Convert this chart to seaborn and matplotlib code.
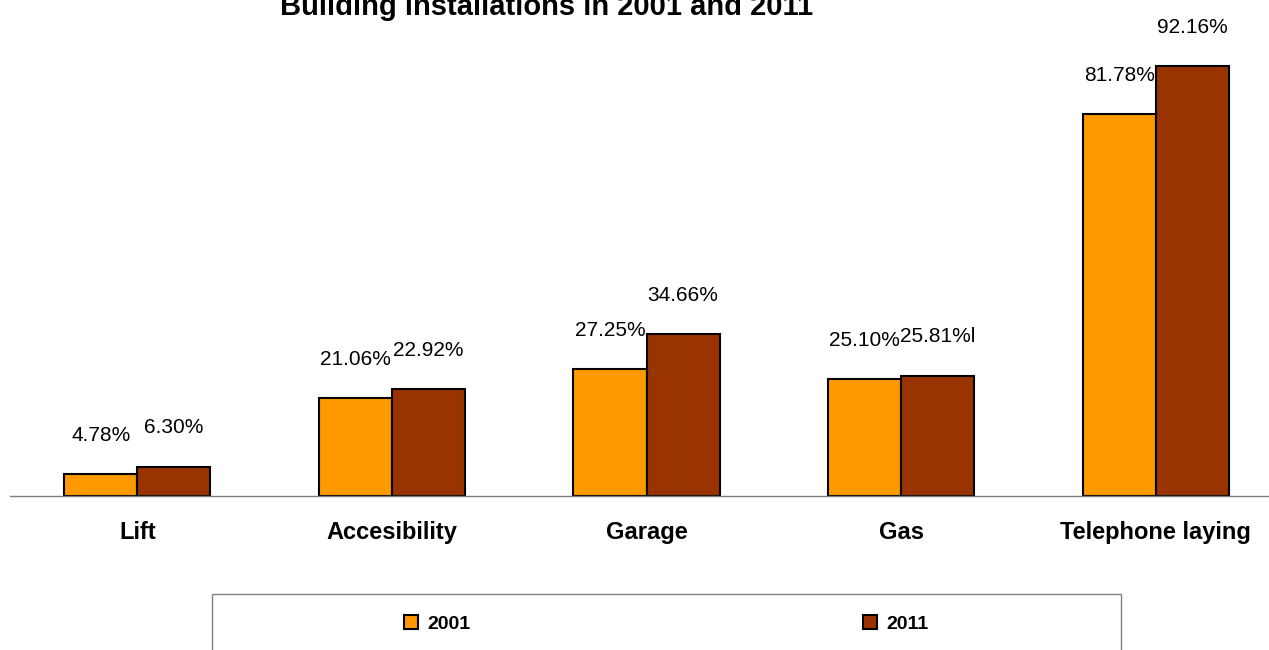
import pandas as pd
import seaborn as sns
import matplotlib.pyplot as plt
from matplotlib.patches import Rectangle, Patch

categories = ['Lift', 'Accesibility', 'Garage', 'Gas', 'Telephone laying']
years = ['2001', '2011']
values_2001 = [4.78, 21.06, 27.25, 25.10, 81.78]
values_2011 = [6.30, 22.92, 34.66, 25.81, 92.16]
labels_2001 = ['4.78%', '21.06%', '27.25%', '25.10%', '81.78%']
labels_2011 = ['6.30%', '22.92%', '34.66%', '25.81%l', '92.16%']
colors = ['#FF9900', '#993300']

df = pd.DataFrame({
    'category': categories * 2,
    'year': [years[0]] * 5 + [years[1]] * 5,
    'value': values_2001 + values_2011,
})

sns.set_style('white')
plt.rcParams['font.family'] = ['Liberation Sans', 'DejaVu Sans']
plt.rcParams['text.color'] = 'black'
plt.rcParams['xtick.color'] = 'black'

W, H = 1269, 650
fig = plt.figure(figsize=(W / 100, H / 100), dpi=100)
ax = fig.add_axes([10 / W, 154 / H, 1273 / W, 466.6 / H])

sns.barplot(data=df, x='category', y='value', hue='year', palette=colors,
            width=0.575, edgecolor='black', linewidth=1.5, saturation=1,
            legend=False, ax=ax)

for cont, labs in zip(ax.containers, [labels_2001, labels_2011]):
    ax.bar_label(cont, labels=labs, padding=21, fontsize=15, color='black')

ax.set_xlim(-0.5, 4.5)
ax.set_ylim(0, 100)
ax.set_yticks([])
ax.set_xlabel('')
ax.set_ylabel('')
for s in ['top', 'left', 'right']:
    ax.spines[s].set_visible(False)
ax.spines['bottom'].set_color('#808080')
ax.spines['bottom'].set_linewidth(1)

ax.set_xticks(range(5))
ax.set_xticklabels(categories, fontsize=17, fontweight='bold', color='black')
ax.tick_params(axis='x', which='major', length=0, pad=18)
ax.set_xticks([i - 0.5 for i in range(6)], minor=True)
ax.tick_params(axis='x', which='minor', length=8, color='#808080', width=1)

fig.text(547 / W, 1 - 15 / H, 'Building installations in 2001 and 2011',
         ha='center', va='baseline', fontsize=21, fontweight='bold', color='black')

handles = [Patch(facecolor=c, edgecolor='black', linewidth=1.5) for c in colors]
fig.legend(handles, years, loc='center', bbox_to_anchor=(666.5 / W, 1 - 624 / H),
           ncol=2, frameon=False, columnspacing=20.2, handlelength=0.7,
           handleheight=0.7, handletextpad=0.5,
           prop={'weight': 'bold', 'size': 14}, labelcolor='black')
fig.add_artist(Rectangle((212 / W, -0.01), 909 / W, (650 - 594) / H + 0.01,
                         transform=fig.transFigure, fill=False,
                         edgecolor='#808080', linewidth=1, clip_on=False))

fig.savefig('out.png', dpi=100)
